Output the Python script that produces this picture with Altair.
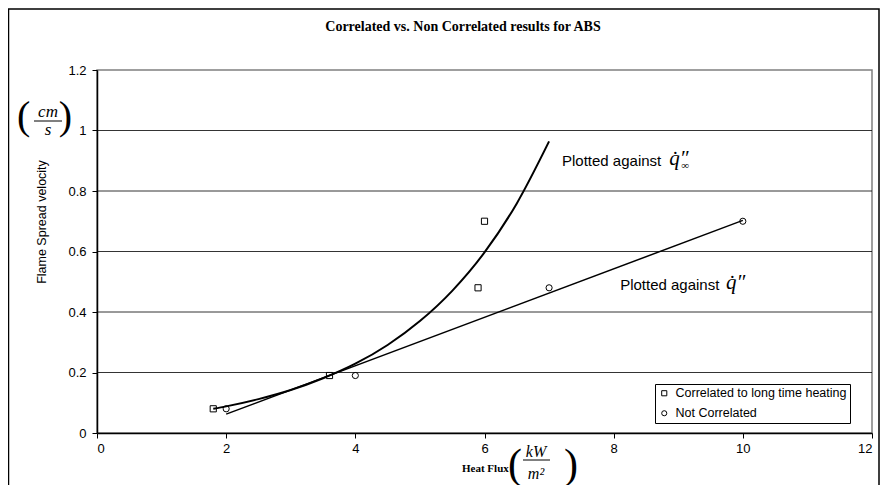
import altair as alt
import pandas as pd

# ---- data ----
corr_x = [1.8, 3.6, 5.9, 6.0]
corr_y = [0.08, 0.19, 0.48, 0.70]
notc_x = [2.0, 4.0, 7.0, 10.0]
notc_y = [0.08, 0.19, 0.48, 0.70]
series_names = ["Correlated to long time heating", "Not Correlated"]

# exponential trend curve
curve_x = [1.8, 2.0, 2.5, 3.0, 3.5, 4.0, 4.5, 5.0, 5.5, 6.0, 6.5, 7.0]
curve_y = [0.080, 0.088, 0.112, 0.142, 0.181, 0.229, 0.291, 0.370, 0.470, 0.597, 0.759, 0.964]

grid_y = [0.2, 0.4, 0.6, 0.8, 1.0]
x_ticks = [0, 2, 4, 6, 8, 10, 12]
y_ticks = [0, 0.2, 0.4, 0.6, 0.8, 1.0, 1.2]

ann_text = ["Plotted against", "Plotted against"]
ann_x = [7.2, 8.1]
ann_y = [0.90, 0.49]
sym_text = ["q\u0307\u2033", "q\u0307\u2033"]
sym_x = [8.86, 9.74]
sym_y = [0.905, 0.495]

W, H = 775, 363
SANS = "Liberation Sans"
SERIF = "Liberation Serif"

pts = pd.DataFrame({
    "x": corr_x + notc_x,
    "y": corr_y + notc_y,
    "s": [series_names[0]] * len(corr_x) + [series_names[1]] * len(notc_x),
})
circ = pd.DataFrame({"x": notc_x, "y": notc_y})
curve = pd.DataFrame({"x": curve_x, "y": curve_y})
grid = pd.DataFrame({"y": grid_y})
ann = pd.DataFrame({"t": ann_text, "x": ann_x, "y": ann_y})
sym = pd.DataFrame({"t": sym_text, "x": sym_x, "y": sym_y})

xs = alt.Scale(domain=[0, 12], nice=False)
ys = alt.Scale(domain=[0, 1.2], nice=False)
xax = alt.Axis(values=x_ticks, format="~g", title=None, grid=False, labelFont=SANS,
               labelFontSize=13, labelColor="black", domainColor="black", domainWidth=1.5,
               tickColor="black", tickSize=5, labelPadding=4)
yax = alt.Axis(values=y_ticks, format="~g", title=None, grid=False, labelFont=SANS,
               labelFontSize=13, labelColor="black", domainColor="black", domainWidth=1.5,
               tickColor="black", tickSize=5, labelPadding=6)

base_x = alt.X("x:Q", scale=xs, axis=xax)
base_y = alt.Y("y:Q", scale=ys, axis=yax)

gridl = alt.Chart(grid).mark_rule(color="black", strokeWidth=0.8).encode(
    y=alt.Y("y:Q", scale=ys, axis=yax))

curve_l = alt.Chart(curve).mark_line(color="black", strokeWidth=2, interpolate="monotone").encode(
    x=base_x, y=base_y)

lin_l = alt.Chart(circ).transform_regression(
    "x", "y", method="linear", extent=[2, 10]
).mark_line(color="black", strokeWidth=1.5).encode(x=base_x, y=base_y)

points = alt.Chart(pts).mark_point(filled=False, color="black", strokeWidth=1, size=38, opacity=1).encode(
    x=base_x, y=base_y,
    shape=alt.Shape("s:N", title=None,
                    scale=alt.Scale(domain=series_names, range=["square", "circle"]),
                    legend=alt.Legend(orient="none", legendX=558, legendY=314,
                                      padding=3, strokeColor="black", fillColor="white",
                                      labelFont=SANS, labelFontSize=12.5, labelColor="black",
                                      symbolSize=26, symbolStrokeColor="black",
                                      symbolStrokeWidth=1, symbolFillColor="white",
                                      rowPadding=7, labelOffset=5, labelLimit=400)),
)

ann_t = alt.Chart(ann).mark_text(font=SANS, fontSize=15, align="left", baseline="middle",
                                 color="black").encode(x=alt.X("x:Q", scale=xs),
                                                       y=alt.Y("y:Q", scale=ys), text="t:N")
sym_t = alt.Chart(sym).mark_text(font=SERIF, fontSize=21, fontStyle="italic", align="left",
                                 baseline="middle", color="black").encode(
    x=alt.X("x:Q", scale=xs), y=alt.Y("y:Q", scale=ys), text="t:N")
inf_t = alt.Chart(sym.iloc[[0]]).mark_text(font=SERIF, fontSize=11, align="left", dx=12, dy=7,
                                           baseline="middle", color="black", text="\u221e").encode(
    x=alt.X("x:Q", scale=xs), y=alt.Y("y:Q", scale=ys))


def txt(s, x, y, **kw):
    d = dict(color="black", baseline="middle")
    d.update(kw)
    return alt.Chart(pd.DataFrame({"a": [0]})).mark_text(text=s, **d).encode(
        x=alt.value(x), y=alt.value(y))


def hline(x1, x2, y, w=1):
    return alt.Chart(pd.DataFrame({"a": [0]})).mark_rule(color="black", strokeWidth=w).encode(
        x=alt.value(x1), x2=alt.value(x2), y=alt.value(y))


title = txt("Correlated vs. Non Correlated results for ABS", 366, -43, font=SERIF,
            fontSize=14, fontWeight="bold", align="center")
ytitle = txt("Flame Spread velocity", -55, 152, font=SANS, fontSize=12.5, angle=270,
             align="center")
# (cm / s)
lp1 = txt("(", -80, 47, font=SERIF, fontSize=40, align="left")
rp1 = txt(")", -25, 47, font=SERIF, fontSize=40, align="right")
cm = txt("cm", -49, 42, font=SERIF, fontSize=17, fontStyle="italic", align="center")
bar1 = hline(-63, -35, 51)
s_t = txt("s", -49, 60, font=SERIF, fontSize=17, fontStyle="italic", align="center")

# Heat Flux (kW / m^2)
xtitle = txt("Heat Flux", 365, 399, font=SERIF, fontSize=11, fontWeight="bold", align="left")
lp2 = txt("(", 411, 395, font=SERIF, fontSize=42, align="left")
rp2 = txt(")", 481, 395, font=SERIF, fontSize=42, align="right")
kw = txt("kW", 439, 382, font=SERIF, fontSize=16, fontStyle="italic", align="center")
bar2 = hline(426, 453, 390)
m2 = txt("m\u00b2", 439, 404, font=SERIF, fontSize=16, fontStyle="italic", align="center")

frame = alt.Chart(pd.DataFrame({"a": [0]})).mark_rect(
    fillOpacity=0, stroke="black", strokeWidth=1.5).encode(
    x=alt.value(-88.5), x2=alt.value(782), y=alt.value(-61), y2=alt.value(430))

chart = alt.layer(
    frame, gridl, curve_l, lin_l, points, ann_t, sym_t, inf_t,
    title, ytitle, lp1, rp1, cm, bar1, s_t, xtitle, lp2, rp2, kw, bar2, m2,
).properties(
    width=W, height=H,
    autosize=alt.AutoSizeParams(type="none"),
    padding={"left": 89, "top": 62, "right": 8, "bottom": 52},
    background="white",
).configure_view(stroke="#808080", strokeWidth=1.5)

chart.save("out.html", embed_options={"renderer": "svg", "actions": False})
